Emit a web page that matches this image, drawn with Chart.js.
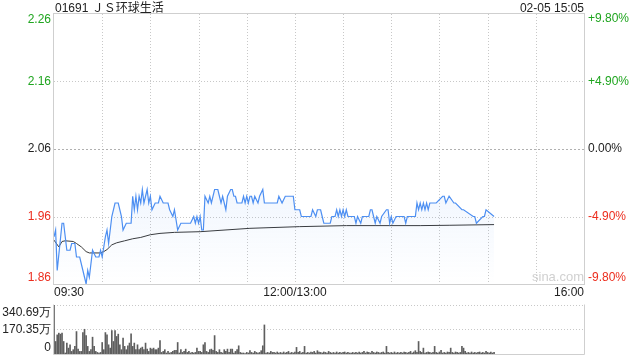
<!DOCTYPE html>
<html><head><meta charset="utf-8">
<script src="https://cdn.jsdelivr.net/npm/chart.js@4.4.1/dist/chart.umd.min.js"></script>
<style>
html,body{margin:0;padding:0;background:#fff;}
body{width:640px;height:360px;position:relative;overflow:hidden;font-family:"Liberation Sans","Noto Sans CJK SC",Arial,sans-serif;}
.t{position:absolute;font-size:12px;line-height:14px;color:#222;white-space:nowrap;}
#c1{position:absolute;left:0;top:0;}
#c2{position:absolute;left:0;top:290px;}
#wm{position:absolute;left:532px;top:270px;font-size:13px;line-height:14px;color:#d0d0d0;font-family:"Liberation Sans",Arial,sans-serif;}
</style></head>
<body>
<canvas id="c1" width="640" height="300"></canvas>
<canvas id="c2" width="640" height="70"></canvas>
<div class="t" style="left:55px;top:1px;">01691 ＪＳ环球生活</div>
<div class="t" style="right:56px;top:1px;">02-05 15:05</div>
<div id="wm">sina.com</div>
<script>
// ---- data ----
const prevClose = 2.06;
const priceTimes = [0,1,2,5,6,8,10,11,13,14,16,18,19,20,21,22,23,24,26,28,29,30,32,33,34,36,38,40,42,43,45,48,49,50,51,52,53,54,55,56,58,59,60,61,63,65,66,68,71,72,74,75,77,79,85,87,88,89,90,91,92,93,94,96,97,98,100,102,103,104,105,107,108,110,111,112,113,114,117,118,119,120,121,122,123,124,125,127,128,130,131,139,140,142,144,149,150,153,154,160,161,163,164,166,167,168,172,173,175,176,177,178,179,180,181,182,183,187,188,189,191,192,196,197,198,199,200,201,203,204,207,208,209,210,211,213,218,219,220,225,226,227,228,229,230,231,232,233,234,236,238,242,243,244,246,249,250,254,255,261,262,263,267,268,269,274];
const priceValues = [1.93,1.94,1.88,1.95,1.95,1.91,1.91,1.92,1.92,1.90,1.90,1.88,1.87,1.86,1.88,1.87,1.89,1.91,1.90,1.90,1.91,1.90,1.93,1.94,1.92,1.96,1.98,1.98,1.96,1.94,1.95,1.95,1.99,1.97,1.99,1.97,1.99,1.98,2.00,1.98,2.00,1.98,1.99,1.97,1.98,1.98,1.99,1.98,1.98,1.97,1.96,1.97,1.94,1.95,1.95,1.96,1.95,1.96,1.95,1.96,1.94,1.94,1.99,1.98,1.99,1.98,2.00,2.00,1.99,1.98,1.99,1.97,1.99,2.00,2.00,1.99,1.99,1.98,1.98,1.99,1.98,1.99,1.98,1.99,1.99,1.98,1.99,1.98,1.99,2.00,1.98,1.98,1.99,1.98,1.99,1.99,1.97,1.97,1.96,1.96,1.97,1.96,1.97,1.97,1.96,1.95,1.95,1.96,1.96,1.97,1.96,1.97,1.96,1.97,1.96,1.97,1.96,1.96,1.95,1.96,1.95,1.96,1.96,1.97,1.97,1.96,1.95,1.96,1.95,1.96,1.97,1.97,1.95,1.96,1.95,1.96,1.96,1.95,1.96,1.96,1.98,1.97,1.98,1.97,1.98,1.97,1.98,1.97,1.98,1.98,1.98,1.99,1.99,1.98,1.99,1.98,1.98,1.97,1.97,1.96,1.96,1.95,1.96,1.96,1.97,1.96,1.96];
const avgTimes = [0,3,5,7,12,14,17,20,22,29,31,33,36,39,44,49,54,60,66,75,91,122,153,182,228,246,274];
const avgValues = [1.925,1.915,1.923,1.924,1.923,1.920,1.915,1.908,1.906,1.906,1.908,1.911,1.918,1.921,1.924,1.927,1.929,1.933,1.935,1.9365,1.9375,1.9425,1.945,1.9465,1.9465,1.947,1.948];
const volumes = [340.69,
87,133,145,138,145,87,7,76,41,64,
18,30,53,156,34,18,18,149,172,128,
53,18,30,117,53,18,11,7,11,80,
30,149,133,64,41,163,87,163,122,138,
64,30,110,53,30,57,76,140,53,76,
30,64,30,41,48,30,76,34,18,41,
34,41,30,30,41,94,11,18,30,7,
18,7,11,18,25,25,80,7,30,11,
18,34,11,18,7,11,7,11,41,18,
18,11,64,80,18,11,30,34,25,128,
18,11,30,11,7,30,18,34,11,34,
34,7,18,30,57,11,7,7,3,11,
7,23,11,7,18,11,7,11,23,57,202,
7,11,7,18,11,
11,7,14,7,11,7,14,7,11,18,
7,11,7,14,46,11,18,7,11,53,
7,11,7,14,11,18,7,23,14,11,
7,14,11,7,18,11,7,11,7,14,
7,11,7,11,14,7,11,7,7,11,
7,11,7,14,7,11,18,7,14,11,
7,18,11,7,14,11,7,11,14,7,
53,11,7,11,7,14,7,11,7,11,
7,14,11,7,11,18,7,14,23,11,
87,18,11,41,7,11,14,11,7,11,
53,11,7,14,25,7,11,7,14,11,
41,11,7,14,11,7,11,53,41,18,
7,11,7,14,7,11,7,11,14,7,
11,7,18,11,7,14,7,11];
const priceTicks = [2.26,2.16,2.06,1.96,1.86];
const pctTicks = [9.8,4.9,0,-4.9,-9.8];
const pctLabels = ['+9.80%','+4.90%','0.00%','-4.90%','-9.80%'];
const xTickMinutes = [0,150,330];
const xTickLabels = ['09:30','12:00/13:00','16:00'];
const volTicks = [340.69,170.35,0];
const volLabels = ['340.69万','170.35万','0'];
const totalMinutes = 330;

const GREEN = '#1fa51f', RED = '#ec2d1e', DARK = '#222';
const FONT = '12px "Liberation Sans", Arial, sans-serif';

function crisp(v){ return Math.round(v) + 0.5; }

const priceDecor = {
  id:'priceDecor',
  beforeDatasetsDraw(chart){
    const {ctx, chartArea:a, scales} = chart;
    ctx.save();
    ctx.lineWidth = 1;
    // vertical dotted
    ctx.strokeStyle = '#c8c8c8';
    ctx.setLineDash([1,2]);
    for (let m = 30; m < totalMinutes; m += 30) {
      const x = crisp(scales.x.getPixelForValue(m));
      ctx.beginPath(); ctx.moveTo(x, a.top); ctx.lineTo(x, a.bottom); ctx.stroke();
    }
    // horizontal dotted
    priceTicks.forEach((v,i) => {
      if (i === 0 || i === priceTicks.length-1) return;
      const y = crisp(scales.y.getPixelForValue(v));
      ctx.strokeStyle = v === prevClose ? '#b0b0b0' : '#c8c8c8';
      ctx.setLineDash(v === prevClose ? [2,2] : [1,2]);
      ctx.beginPath(); ctx.moveTo(a.left, y); ctx.lineTo(a.right, y); ctx.stroke();
    });
    ctx.setLineDash([]);
    ctx.strokeStyle = '#cfcfcf';
    ctx.strokeRect(crisp(a.left)-1, crisp(a.top)-1, Math.round(a.right-a.left)+1, Math.round(a.bottom-a.top)+1);
    ctx.restore();
  },
  afterDraw(chart){
    const {ctx, scales} = chart;
    ctx.save();
    ctx.font = FONT;
    ctx.textBaseline = 'middle';
    priceTicks.forEach((v,i) => {
      const off = i === 0 ? 6 : (i === priceTicks.length-1 ? -6 : 0);
      const y = scales.y.getPixelForValue(v) + off;
      ctx.fillStyle = v > prevClose + 1e-9 ? GREEN : (v < prevClose - 1e-9 ? RED : DARK);
      ctx.textAlign = 'right';
      ctx.fillText(v.toFixed(2), 51, y);
    });
    pctTicks.forEach((v,i) => {
      const off = i === 0 ? 5 : (i === pctTicks.length-1 ? -6 : 0);
      const y = scales.yp.getPixelForValue(v) + off;
      ctx.fillStyle = v > 0 ? GREEN : (v < 0 ? RED : DARK);
      ctx.textAlign = 'left';
      ctx.fillText(pctLabels[i], 588, y);
    });
    ctx.restore();
  }
};

new Chart(document.getElementById('c1'), {
  type:'line',
  data:{datasets:[
    {data: priceTimes.map((t,i)=>({x:t,y:priceValues[i]})), borderColor:'#4d8ff2', borderWidth:1.2,
     pointRadius:0, tension:0, fill:'start',
     backgroundColor:(c)=>{const a=c.chart.chartArea; if(!a) return 'rgba(77,143,242,0.08)';
       const g=c.chart.ctx.createLinearGradient(0,a.top,0,a.bottom);
       g.addColorStop(0,'rgba(77,143,242,0.22)'); g.addColorStop(1,'rgba(77,143,242,0.0)'); return g;}},
    {data: avgTimes.map((t,i)=>({x:t,y:avgValues[i]})), borderColor:'#383838', borderWidth:1,
     pointRadius:0, tension:0, fill:false}
  ]},
  options:{
    responsive:false, animation:false, devicePixelRatio:1,
    layout:{padding:{top:14,left:0,right:0,bottom:0}},
    plugins:{legend:{display:false}, tooltip:{enabled:false}},
    scales:{
      x:{type:'linear', min:0, max:totalMinutes,
         grid:{display:false, drawTicks:false}, border:{display:false},
         afterBuildTicks:(s)=>{ s.ticks = xTickMinutes.map(v=>({value:v})); },
         ticks:{align:'inner', padding:1, maxRotation:0, autoSkip:false, color:DARK,
                font:{family:'"Liberation Sans", Arial, sans-serif', size:12},
                callback:(v)=>xTickLabels[xTickMinutes.indexOf(v)]},
         afterFit:(s)=>{ s.height = 16; }},
      y:{position:'left', min:1.86, max:2.26, ticks:{display:false},
         grid:{display:false}, border:{display:false}, afterFit:(s)=>{ s.width = 54; }},
      yp:{position:'right', min:-9.8, max:9.8, ticks:{display:false},
         grid:{display:false}, border:{display:false}, afterFit:(s)=>{ s.width = 56; }}
    }
  },
  plugins:[priceDecor]
});

const volDecor = {
  id:'volDecor',
  beforeDatasetsDraw(chart){
    const {ctx, chartArea:a, scales} = chart;
    ctx.save();
    ctx.lineWidth = 1;
    ctx.strokeStyle = '#c8c8c8';
    ctx.setLineDash([1,2]);
    volTicks.forEach((v,i)=>{
      if (i === volTicks.length-1) return;
      const y = crisp(scales.y.getPixelForValue(v));
      ctx.beginPath(); ctx.moveTo(a.left, y); ctx.lineTo(a.right, y); ctx.stroke();
    });
    ctx.setLineDash([]);
    ctx.strokeStyle = '#cfcfcf';
    const l = crisp(a.left)-1, r = crisp(a.right), t = crisp(a.top)-1, b = crisp(a.bottom);
    ctx.beginPath(); ctx.moveTo(l,t); ctx.lineTo(l,b); ctx.lineTo(r,b); ctx.lineTo(r,t); ctx.stroke();
    ctx.restore();
  },
  afterDraw(chart){
    const {ctx, scales} = chart;
    ctx.save();
    ctx.font = FONT; ctx.textBaseline = 'middle'; ctx.textAlign = 'right'; ctx.fillStyle = DARK;
    volTicks.forEach((v,i)=>{
      const off = i === 0 ? 8 : (i === volTicks.length-1 ? -6 : 0);
      ctx.fillText(volLabels[i], 51, scales.y.getPixelForValue(v) + off);
    });
    ctx.restore();
  }
};

new Chart(document.getElementById('c2'), {
  type:'bar',
  data:{datasets:[{data: volumes.map((v,i)=>({x:i,y:v})), backgroundColor:'#5e5e5e', borderWidth:0, barThickness:1}]},
  options:{
    responsive:false, animation:false, devicePixelRatio:1,
    layout:{padding:{top:15,left:0,right:56,bottom:6}},
    plugins:{legend:{display:false}, tooltip:{enabled:false}},
    scales:{
      x:{type:'linear', min:0, max:totalMinutes, display:false, offset:false},
      y:{position:'left', min:0, max:volTicks[0], ticks:{display:false},
         grid:{display:false}, border:{display:false}, afterFit:(s)=>{ s.width = 54; }}
    }
  },
  plugins:[volDecor]
});
</script>
</body></html>
